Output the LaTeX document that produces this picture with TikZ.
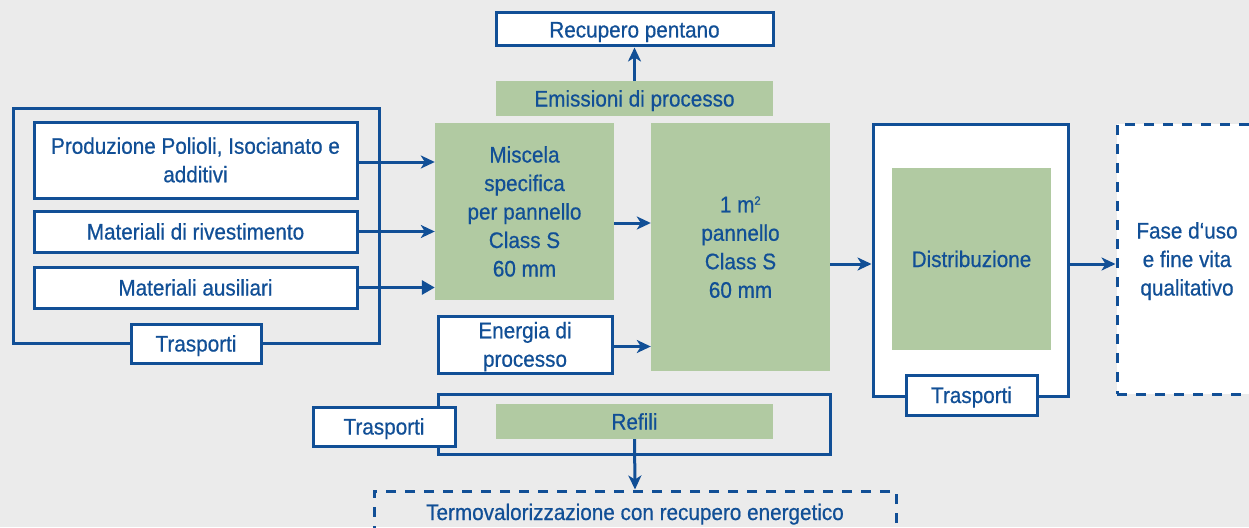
\documentclass[tikz,border=0pt]{standalone}
\usepackage{fontspec}
\setmainfont{Liberation Sans}[FakeStretch=0.92,FakeBold=0.6]
\usetikzlibrary{arrows.meta}
\definecolor{bluec}{RGB}{17,79,150}
\definecolor{greenc}{RGB}{177,202,162}
\definecolor{bgc}{RGB}{235,235,235}
\tikzset{
  txt/.style={text=bluec, font=\fontsize{22.5}{28.5}\selectfont, align=center, inner sep=0pt, text height=16pt, text depth=0pt},
  ltwo/.style={text height=44.5pt},
  lthree/.style={text height=73pt},
  lfour/.style={text height=101.5pt},
  lfive/.style={text height=130pt},
  wbox/.style={txt, draw=bluec, line width=3pt, fill=white},
  frame/.style={draw=bluec, line width=3pt, inner sep=0pt},
  gbox/.style={txt, fill=greenc},
  dbox/.style={txt, draw=bluec, line width=3pt, dash pattern=on 10pt off 9pt},
  arr/.style={draw=bluec, line width=3pt, -{Stealth[length=14pt,width=13pt,inset=4pt]}},
  arrt/.style={draw=bluec, line width=3pt, -{Triangle[length=13pt,width=14pt]}}
}
\begin{document}
\begin{tikzpicture}[x=1pt,y=-1pt]
\fill[bgc] (0,0) rectangle (1249,527);
\useasboundingbox (0,0) rectangle (1249,527);
% frames
\node[frame, minimum width=366, minimum height=235] (frameL) at (196,225.5) {};
\node[frame, minimum width=392, minimum height=60] (refFrame) at (634,424) {};
\node[frame, fill=white, minimum width=195, minimum height=272] (distFrame) at (970.5,260) {};
% left boxes
\node[wbox, ltwo, minimum width=323, minimum height=76] (prod) at (195.5,160) {Produzione Polioli, Isocianato e\\additivi};
\node[wbox, minimum width=323, minimum height=41] (riv) at (195.5,231.5) {Materiali di rivestimento};
\node[wbox, minimum width=323, minimum height=41] (aus) at (195.5,287.5) {Materiali ausiliari};
\node[wbox, minimum width=130, minimum height=39] (traspL) at (196,343.5) {Trasporti};
% center
\node[gbox, lfive, minimum width=179, minimum height=177] (misc) at (524.5,211.5) {Miscela\\specifica\\per pannello\\Class S\\60 mm};
\node[gbox, minimum width=277, minimum height=35] (emis) at (634.5,98.5) {Emissioni di processo};
\node[wbox, minimum width=277, minimum height=33] (recup) at (634.5,29.5) {Recupero pentano};
\node[gbox, lfour, minimum width=179, minimum height=248] (pan) at (740.5,247) {1 m\textsuperscript{\fontsize{12}{12}\selectfont 2}\\pannello\\Class S\\60 mm};
\node[wbox, ltwo, minimum width=174, minimum height=57] (energia) at (525,344.5) {Energia di\\processo};
\node[gbox, minimum width=277, minimum height=35] (refili) at (634.5,421.5) {Refili};
\node[wbox, minimum width=142, minimum height=39] (traspB) at (384,426.5) {Trasporti};
\node[dbox, minimum width=522, minimum height=42] (termo) at (635,512) {Termovalorizzazione con recupero energetico};
% right
\node[gbox, minimum width=159, minimum height=182] (dist) at (971.5,259) {Distribuzione};
\node[wbox, minimum width=131, minimum height=40] (traspR) at (971.5,395) {Trasporti};
\node[dbox, lthree, fill=white, minimum width=140, minimum height=270] (fase) at (1187,259) {Fase d‘uso\\e fine vita\\qualitativo};
% connectors
\draw[arr] ([yshift=-2pt]prod.east) -- ([yshift=-2pt]prod.east -| misc.west);
\draw[arr] (riv.east) -- (riv.east -| misc.west);
\draw[arrt] (aus.east) -- (aus.east -| misc.west);
\draw[arr] ([yshift=-11.5pt]misc.east) -- ([yshift=-11.5pt]misc.east -| pan.west);
\draw[arr] ([yshift=-2pt]energia.east) -- ([yshift=-2pt]energia.east -| pan.west);
\draw[arr] ([yshift=-17pt]pan.east) -- ([yshift=-17pt]pan.east -| distFrame.west);
\draw[arr] ([yshift=-4pt]distFrame.east) -- ([yshift=-4pt]distFrame.east -| fase.west);
\draw[arr] (emis.north) -- (recup.south);
\draw[arr] (refili.south) -- (termo.north);
\end{tikzpicture}
\end{document}
